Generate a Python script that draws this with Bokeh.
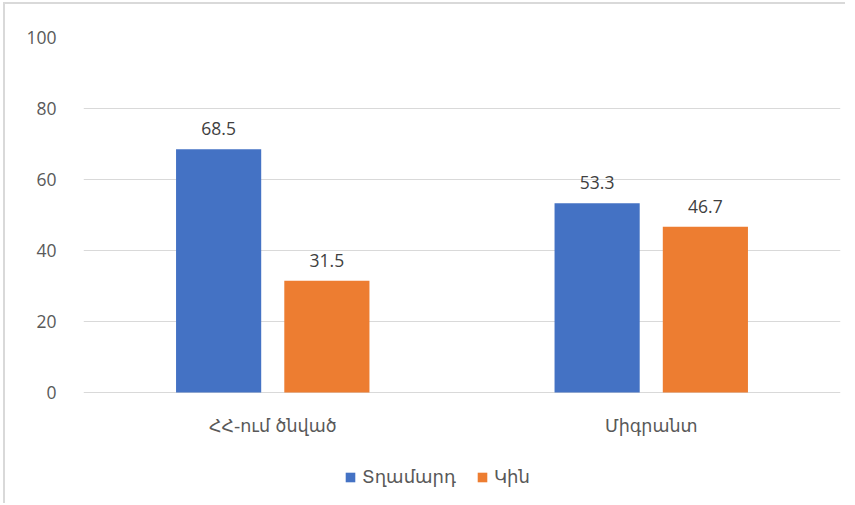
from bokeh.plotting import figure
from bokeh.models import ColumnDataSource, FactorRange, LabelSet, Legend, LegendItem, Range1d, FixedTicker
from bokeh.transform import dodge
from bokeh.core.properties import value
from bokeh.embed import file_html
from bokeh.resources import INLINE

categories = ["ՀՀ-ում ծնված", "Միգրանտ"]
series_names = ["Տղամարդ", "Կին"]
men = [68.5, 53.3]
women = [31.5, 46.7]
y_ticks = [0, 20, 40, 60, 80, 100]

colors = ["#4472C4", "#ED7D31"]
ARM_FONT = "DejaVu Sans"
NUM_FONT = "Open Sans"

# frame geometry: 355 px for 0..100, extended 113 px below zero for labels + legend
Y_BELOW = -100 * 113 / 355

src = ColumnDataSource(dict(
    cat=categories, men=men, women=women, zero=[0] * len(categories),
    men_lbl=[f"{v:.1f}" for v in men],
    women_lbl=[f"{v:.1f}" for v in women],
))

p = figure(x_range=FactorRange(*categories, range_padding=0), y_range=Range1d(Y_BELOW, 100),
           width=842, height=501, output_backend="svg", toolbar_location=None,
           min_border_left=78, min_border_right=7, min_border_top=33, min_border_bottom=0)
p.styles = {"margin-left": "3px", "margin-top": "2px",
            "border-left": "2px solid #d9d9d9", "border-top": "2px solid #d9d9d9"}

r1 = p.vbar(x=dodge("cat", -0.143, range=p.x_range), top="men", width=0.225, source=src,
            fill_color=colors[0], line_color=None)
r2 = p.vbar(x=dodge("cat", 0.143, range=p.x_range), top="women", width=0.225, source=src,
            fill_color=colors[1], line_color=None)

for col, off in (("men_lbl", -0.143), ("women_lbl", 0.143)):
    ycol = "men" if col == "men_lbl" else "women"
    p.add_layout(LabelSet(x=dodge("cat", off, range=p.x_range), y=ycol, text=col, source=src,
                          text_align="center", text_baseline="bottom", y_offset=14,
                          text_font_size="17.5px", text_color="#404040", text_font=value(NUM_FONT)))

# category labels under the baseline
p.add_layout(LabelSet(x="cat", y="zero", text="cat", source=src,
                      text_align="center", text_baseline="middle", y_offset=-33,
                      text_font_size="17.5px", text_color="#595959", text_font=value(ARM_FONT)))

p.outline_line_color = None
p.xaxis.visible = False
p.xgrid.grid_line_color = None
p.ygrid.grid_line_color = "#d9d9d9"
p.ygrid.grid_line_width = 1
p.ygrid.ticker = FixedTicker(ticks=y_ticks)
p.yaxis.ticker = FixedTicker(ticks=y_ticks)
p.yaxis.axis_line_color = None
p.yaxis.major_tick_line_color = None
p.yaxis.minor_tick_line_color = None
p.yaxis.major_label_text_font_size = "17.5px"
p.yaxis.major_label_text_color = "#595959"
p.yaxis.major_label_text_font = NUM_FONT
p.yaxis.major_label_standoff = 21

legend = Legend(items=[LegendItem(label=series_names[0], renderers=[r1]),
                       LegendItem(label=series_names[1], renderers=[r2])],
                orientation="horizontal", location=(261, 18),
                label_text_font_size="18px", label_text_color="#595959", label_text_font=ARM_FONT,
                glyph_width=12, glyph_height=12, spacing=20, label_standoff=6,
                border_line_color=None, background_fill_alpha=0, padding=0, margin=0)
p.add_layout(legend)

open("out.html", "w").write(file_html(p, INLINE))
